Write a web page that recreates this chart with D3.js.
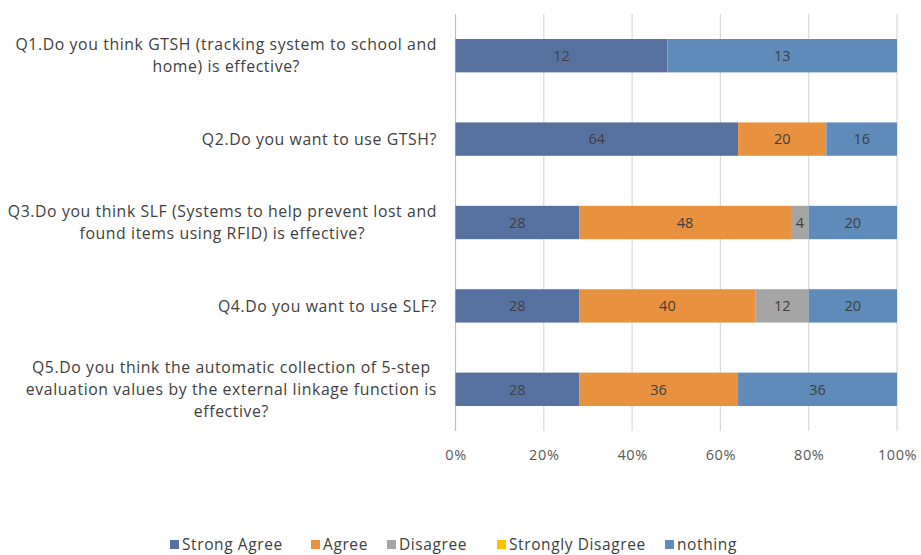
<!DOCTYPE html>
<html>
<head>
<meta charset="utf-8">
<script src="https://cdn.jsdelivr.net/npm/d3@7"></script>
<style>
  html, body { margin: 0; padding: 0; background: #fff; }
  svg { display: block; }
</style>
</head>
<body>
<svg id="chart" width="921" height="555"></svg>
<script>
// Survey questions (each entry is a list of wrapped label lines)
const questions = [
  ["Q1.Do you think GTSH (tracking system to school and", "home) is effective?"],
  ["Q2.Do you want to use GTSH?"],
  ["Q3.Do you think SLF (Systems to help prevent lost and", "found items using RFID) is effective?"],
  ["Q4.Do you want to use SLF?"],
  ["Q5.Do you think the automatic collection of 5-step", "evaluation values by the external linkage function is", "effective?"]
];
const seriesNames = ["Strong Agree", "Agree", "Disagree", "Strongly Disagree", "nothing"];
const strongAgree      = [12, 64, 28, 28, 28];
const agree            = [0, 20, 48, 40, 36];
const disagree         = [0, 0, 4, 12, 0];
const stronglyDisagree = [0, 0, 0, 0, 0];
const nothing          = [13, 16, 20, 20, 36];
const xTicks = [0, 0.2, 0.4, 0.6, 0.8, 1];

const colors = ["#56719f", "#e8913f", "#a5a5a5", "#ffc000", "#5e8bba"];
const font = "'Open Sans', Lato, sans-serif";
const seriesValues = [strongAgree, agree, disagree, stronglyDisagree, nothing];

const rows = questions.map((q, i) => {
  const r = { key: i };
  seriesNames.forEach((s, si) => { r[s] = seriesValues[si][i]; });
  return r;
});

const stacked = d3.stack().keys(seriesNames).offset(d3.stackOffsetExpand)(rows);

const svg = d3.select("#chart");
const plotLeft = 455.5, plotRight = 897, plotTop = 14, plotBottom = 431;

const x = d3.scaleLinear().domain([0, 1]).range([plotLeft, plotRight]);
const y = d3.scaleBand().domain(d3.range(questions.length)).range([plotTop, plotBottom])
  .paddingInner(0.6).paddingOuter(0.3);

// vertical gridlines
svg.append("g").selectAll("line").data(xTicks).join("line")
  .attr("x1", d => x(d)).attr("x2", d => x(d))
  .attr("y1", plotTop).attr("y2", plotBottom)
  .attr("stroke", d => d === 0 ? "#bfbfbf" : "#d9d9d9").attr("stroke-width", 1.2);

// stacked bars
const layers = svg.append("g").selectAll("g").data(stacked).join("g")
  .attr("fill", (d, i) => colors[i]);
layers.selectAll("rect").data(d => d.map(v => v))
  .join("rect")
  .attr("x", d => x(d[0]))
  .attr("width", d => Math.max(0, x(d[1]) - x(d[0])))
  .attr("y", (d, i) => y(i))
  .attr("height", y.bandwidth());

// data labels
layers.selectAll("text")
  .data((d, si) => d.map((v, i) => ({ v, i, val: seriesValues[si][i] })).filter(e => e.val > 0))
  .join("text")
  .attr("x", d => (x(d.v[0]) + x(d.v[1])) / 2)
  .attr("y", d => y(d.i) + y.bandwidth() / 2)
  .attr("dy", "0.36em")
  .attr("text-anchor", "middle")
  .attr("fill", "#404040")
  .attr("font-family", font)
  .attr("font-size", 14.5)
  .text(d => d.val);

// x axis tick labels
const xAxis = d3.axisBottom(x).tickValues(xTicks).tickFormat(d3.format(".0%")).tickSize(0).tickPadding(0);
const gx = svg.append("g").attr("transform", `translate(0,${plotBottom + 24})`).call(xAxis);
gx.select(".domain").remove();
gx.selectAll("text").attr("font-family", font).attr("font-size", 14.5)
  .attr("letter-spacing", 0.6).attr("fill", "#595959").attr("dy", "0.36em");

// category labels: right-aligned block, lines centred within it
const lineH = 22;
const cats = svg.append("g").selectAll("text").data(questions).join("text")
  .attr("text-anchor", "middle")
  .attr("font-family", font)
  .attr("font-size", 15.8)
  .attr("letter-spacing", 0.6)
  .attr("fill", "#404040");
cats.each(function(lines, i) {
  const cy = y(i) + y.bandwidth() / 2;
  const t = d3.select(this);
  lines.forEach((ln, k) => {
    t.append("tspan").text(ln)
      .attr("y", cy + (k - (lines.length - 1) / 2) * lineH)
      .attr("dy", "0.36em");
  });
  const spans = t.selectAll("tspan").nodes();
  const maxW = d3.max(spans, s => s.getComputedTextLength());
  const cx = 437 - maxW / 2;
  spans.forEach(s => s.setAttribute("x", cx));
});

// legend
const legendX = [170, 311, 387, 497, 665];
const lg = svg.append("g").selectAll("g").data(seriesNames).join("g")
  .attr("transform", (d, i) => `translate(${legendX[i]},544)`);
lg.append("rect").attr("x", 0).attr("y", -4).attr("width", 9).attr("height", 9)
  .attr("fill", (d, i) => colors[i]);
lg.append("text").attr("x", 12).attr("y", 0).attr("dy", "0.36em")
  .attr("font-family", font).attr("font-size", 15.5).attr("letter-spacing", 0.6)
  .attr("fill", "#404040")
  .text(d => d);
</script>
</body>
</html>
